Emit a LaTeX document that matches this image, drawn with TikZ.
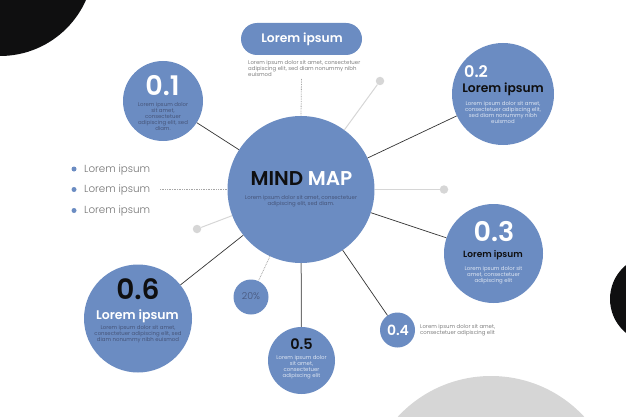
\documentclass[tikz,border=0pt]{standalone}
\usepackage{fontspec}
\setmainfont{Poppins}[BoldFont=* SemiBold]
\newfontfamily\lightf{Poppins}[UprightFont=* Light]
\definecolor{blu}{HTML}{6B8CC2}
\definecolor{gry}{HTML}{D6D6D6}
\definecolor{blk}{HTML}{0F0F10}
\definecolor{dk}{HTML}{46557A}
\definecolor{lt}{HTML}{DDE5F2}
\newcommand{\fsz}[2]{\fontsize{#1}{#2}\selectfont}
\tikzset{
 x=1pt,y=-1pt,
 bub/.style={circle,fill=blu,draw=none,inner sep=0pt,minimum size=#1},
 dot/.style={circle,fill=gry,inner sep=0pt,minimum size=8.5pt},
 bul/.style={circle,fill=blu,inner sep=0pt,minimum size=5pt},
 wire/.style={draw=black!80,line width=.7pt},
 ray/.style={draw=gry,line width=1pt},
 dots/.style={draw=black!35,line width=.8pt,dash pattern=on .8pt off .9pt},
 bodyt/.style={inner sep=0pt,align=center,font=\fsz{5.4}{6},text=#1},
 bodyt/.default=dk,
 num/.style={inner sep=0pt,font=\bfseries\fsz{#1}{#1}},
 ttl/.style={inner sep=0pt,font=\bfseries\fsz{#1}{#1}},
 lst/.style={inner sep=0pt,anchor=west,text=black!55,font=\lightf\fsz{10.3}{11}},
}
\begin{document}
\begin{tikzpicture}
\useasboundingbox (0,0) rectangle (626,417);
\clip (0,0) rectangle (626,417);
\fill[blk] (0,-38) circle[radius=94];
\fill[blk] (654,299) circle[radius=44];
\fill[gry] (491,503) circle[radius=127];
% hubs
\node[bub=147pt] (main) at (301,189.5) {};
\node[bub=80pt] (n1) at (163,101) {};
\node[bub=102pt] (n2) at (503,94) {};
\node[bub=99pt] (n3) at (493.5,253.5) {};
\node[bub=35pt] (n4) at (397.5,330) {};
\node[bub=67pt] (n5) at (301.5,360.5) {};
\node[bub=108pt] (n6) at (138,318.5) {};
\node[bub=35pt] (n7) at (251,297) {};
\node[dot] (d1) at (380,81) {};
\node[dot] (d2) at (444,189.5) {};
\node[dot] (d3) at (197,229) {};
\coordinate (topend) at (301.5,79);
\coordinate (leftend) at (160,189.5);
\path[wire] (main) edge (n1) edge (n2) edge (n3) edge (n4) edge (n6);
\draw[draw=black!55,line width=1pt] (main) -- (n5);
\path[ray] (main) edge (d1) edge (d2) edge (d3);
\draw[dots] (topend) -- (main.north);
\draw[dots] (leftend) -- (main.west |- leftend);
\draw[dots] (main) -- (n7);
% pill
\node[fill=blu,rounded corners=16pt,minimum width=121pt,minimum height=32pt,inner sep=0pt] (pill) at (301.5,39) {};
\node[ttl=12.3,text=white] (pillt) at (302,39) {Lorem ipsum};
\node[bodyt=black!50,align=left,anchor=north west] (pillb) at (248,60) {Lorem ipsum dolor sit amet, consectetuer\\adipiscing elit, sed diam nonummy nibh\\euismod};
% main text
\node[ttl=20] (mt) at (301.5,179) {\textcolor{blk}{MIND} \textcolor{white}{MAP}};
\node[bodyt] (mb) at (301,201) {Lorem ipsum dolor sit amet, consectetuer\\adipiscing elit, sed diam.};
% 0.1
\node[num=27,text=white] (t1) at (162.5,85.5) {0.1};
\node[bodyt] (b1) at (163,116) {Lorem ipsum dolor\\sit amet,\\consectetuer\\adipiscing elit, sed\\diam.};
% 0.2
\node[num=16,text=white] (t2) at (476,72) {0.2};
\node[ttl=12.3,text=blk] (h2) at (503,89) {Lorem ipsum};
\node[bodyt=lt] (b2) at (503,112) {Lorem ipsum dolor sit amet,\\consectetuer adipiscing elit,\\sed diam nonummy nibh\\euismod};
% 0.3
\node[num=27,text=white] (t3) at (494,232) {0.3};
\node[ttl=9,text=blk] (h3) at (493,255) {Lorem ipsum};
\node[bodyt=lt] (b3) at (493.5,275) {Lorem ipsum dolor sit\\amet, consectetuer\\adipiscing elit};
% 0.4
\node[num=14,text=white] (t4) at (398,330) {0.4};
\node[bodyt=black!50,align=left,anchor=west] (b4) at (420,330) {Lorem ipsum dolor sit amet,\\consectetuer adipiscing elit};
% 0.5
\node[num=14.5,text=blk] (t5) at (301.5,344.5) {0.5};
\node[bodyt=lt] (b5) at (301.5,367.5) {Lorem ipsum dolor\\sit amet,\\consectetuer\\adipiscing elit};
% 0.6
\node[num=28,text=blk] (t6) at (138,289.5) {0.6};
\node[ttl=12.5,text=white] (h6) at (137.5,316) {Lorem ipsum};
\node[bodyt] (b6) at (138,334.5) {Lorem ipsum dolor sit amet,\\consectetuer adipiscing elit, sed\\diam nonummy nibh euismod};
% 20%
\node[inner sep=0pt,text=dk,font=\lightf\fsz{9.5}{10}] (t7) at (251,296.5) {20\%};
% list
\node[bul] (l1) at (74,169) {};
\node[bul] (l2) at (74,189.5) {};
\node[bul] (l3) at (74,210.5) {};
\node[lst] (lt1) at (84,169.5) {Lorem ipsum};
\node[lst] (lt2) at (84,190) {Lorem ipsum};
\node[lst] (lt3) at (84,211) {Lorem ipsum};
\end{tikzpicture}
\end{document}
